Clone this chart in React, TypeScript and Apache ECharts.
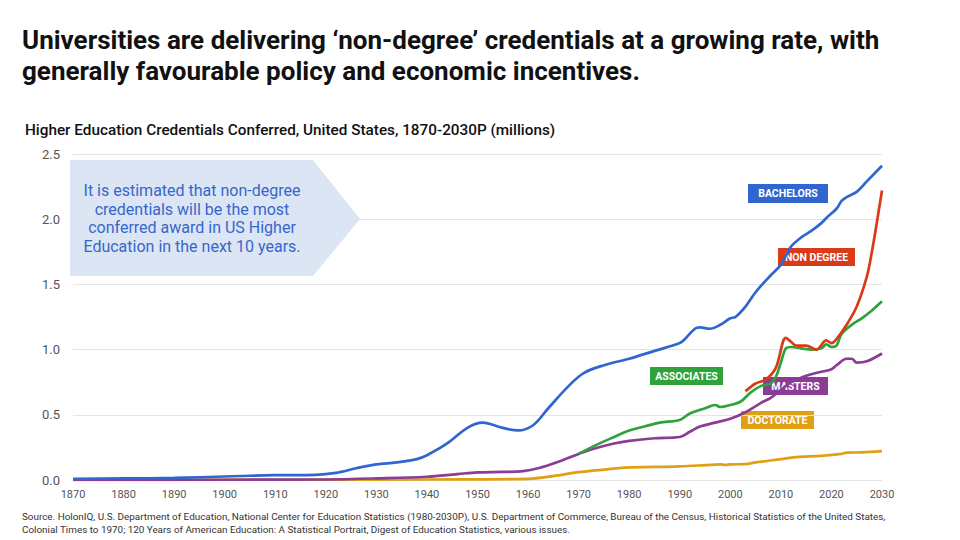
import React, { useEffect, useRef } from "react";
import * as echarts from "echarts";

const TITLE_LINES = [
  "Universities are delivering ‘non-degree’ credentials at a growing rate, with",
  "generally favourable policy and economic incentives.",
];
const SUBTITLE = "Higher Education Credentials Conferred, United States, 1870-2030P (millions)";
const SOURCE_LINES = [
  "Source. HolonIQ, U.S. Department of Education, National Center for Education Statistics (1980-2030P), U.S. Department of Commerce, Bureau of the Census, Historical Statistics of the United States,",
  "Colonial Times to 1970; 120 Years of American Education: A Statistical Portrait, Digest of Education Statistics, various issues.",
];
const CALLOUT = "It is estimated that non-degree\ncredentials will be the most\nconferred award in US Higher\nEducation in the next 10 years.";

const bachelorsYears = [1870, 1880, 1890, 1900, 1910, 1918, 1922, 1926, 1930, 1934, 1938, 1940, 1944, 1948, 1951, 1955, 1958, 1961, 1964, 1968, 1971, 1975, 1980, 1985, 1990, 1991, 1993, 1994, 1996, 1998, 2000, 2001, 2003, 2005, 2008, 2010, 2011, 2012, 2014, 2016, 2018, 2019, 2021, 2022, 2023, 2025, 2027, 2030];
const bachelorsValues = [0.009, 0.012, 0.016, 0.027, 0.037, 0.04, 0.055, 0.09, 0.12, 0.135, 0.16, 0.19, 0.28, 0.4, 0.44, 0.4, 0.38, 0.42, 0.55, 0.72, 0.82, 0.88, 0.93, 0.99, 1.05, 1.08, 1.16, 1.17, 1.16, 1.19, 1.24, 1.25, 1.33, 1.44, 1.57, 1.65, 1.72, 1.79, 1.86, 1.91, 1.97, 2.01, 2.08, 2.14, 2.17, 2.21, 2.29, 2.41];

const nonDegreeYears = [2003, 2005, 2007, 2009, 2011, 2012, 2013, 2015, 2017, 2019, 2020, 2021, 2023, 2025, 2027, 2028, 2029, 2030];
const nonDegreeValues = [0.68, 0.74, 0.77, 0.86, 1.09, 1.06, 1.03, 1.03, 1.0, 1.07, 1.05, 1.08, 1.19, 1.33, 1.56, 1.75, 1.98, 2.22];

const associatesYears = [1970, 1973, 1977, 1980, 1983, 1986, 1990, 1992, 1995, 1997, 1998, 2000, 2002, 2004, 2006, 2008, 2009, 2010, 2011, 2012, 2014, 2016, 2018, 2019, 2020, 2021, 2022, 2024, 2026, 2028, 2030];
const associatesValues = [0.2, 0.26, 0.33, 0.38, 0.41, 0.44, 0.46, 0.51, 0.55, 0.575, 0.56, 0.575, 0.6, 0.67, 0.72, 0.74, 0.79, 0.9, 1.01, 1.02, 1.01, 1.0, 1.01, 1.04, 1.02, 1.03, 1.12, 1.19, 1.24, 1.3, 1.37];

const mastersYears = [1870, 1900, 1920, 1930, 1940, 1946, 1950, 1955, 1959, 1962, 1966, 1970, 1973, 1977, 1980, 1985, 1990, 1992, 1994, 1997, 2000, 2003, 2006, 2008, 2010, 2012, 2015, 2018, 2020, 2021, 2023, 2024, 2025, 2027, 2030];
const mastersValues = [0.0, 0.002, 0.004, 0.012, 0.025, 0.045, 0.058, 0.062, 0.068, 0.09, 0.14, 0.2, 0.24, 0.28, 0.3, 0.32, 0.33, 0.37, 0.41, 0.44, 0.47, 0.52, 0.59, 0.63, 0.69, 0.75, 0.8, 0.83, 0.85, 0.88, 0.93, 0.93, 0.9, 0.91, 0.97];

const doctorateYears = [1870, 1900, 1920, 1940, 1960, 1965, 1970, 1975, 1980, 1985, 1990, 1995, 1998, 1999, 2000, 2003, 2005, 2010, 2013, 2018, 2022, 2023, 2026, 2030];
const doctorateValues = [0.0, 0.001, 0.002, 0.004, 0.009, 0.03, 0.06, 0.08, 0.097, 0.1, 0.105, 0.114, 0.12, 0.115, 0.12, 0.122, 0.135, 0.16, 0.175, 0.185, 0.2, 0.21, 0.212, 0.222];

const yTicks = [0, 0.5, 1.0, 1.5, 2.0, 2.5];
const xTicks = [1870, 1880, 1890, 1900, 1910, 1920, 1930, 1940, 1950, 1960, 1970, 1980, 1990, 2000, 2010, 2020, 2030];

const COLORS = {
  bachelors: "#2F66CF",
  nonDegree: "#D93A18",
  associates: "#2FA23C",
  masters: "#8B3C95",
  doctorate: "#DFA014",
};

const FONT = "Roboto, 'Noto Sans', sans-serif";

function pairs(xs: number[], ys: number[]) {
  return xs.map((x, i) => [x, ys[i]]);
}

function labelBox(text: string, x: number, y: number, w: number, h: number, color: string) {
  return {
    type: "group",
    x,
    y,
    children: [
      { type: "rect", shape: { x: 0, y: 0, width: w, height: h }, style: { fill: color } },
      {
        type: "text",
        x: w / 2,
        y: h / 2,
        style: {
          text,
          fill: "#ffffff",
          fontFamily: FONT,
          fontWeight: "bold",
          fontSize: 10.5,
          align: "center",
          verticalAlign: "middle",
        },
      },
    ],
  };
}

export default function App() {
  const ref = useRef<HTMLDivElement>(null);
  useEffect(() => {
    if (!ref.current) return;
    const chart = echarts.init(ref.current, undefined, { renderer: "svg" });
    const mkSeries = (name: string, xs: number[], ys: number[], color: string, z: number) => ({
      name,
      type: "line",
      data: pairs(xs, ys),
      smooth: 0.35,
      showSymbol: false,
      symbol: "none",
      z,
      lineStyle: { color, width: 2.7 },
      itemStyle: { color },
    });
    chart.setOption({
      animation: false,
      backgroundColor: "#ffffff",
      grid: { left: 73, right: 78, top: 154, bottom: 60, containLabel: false },
      xAxis: {
        type: "value",
        min: xTicks[0],
        max: xTicks[xTicks.length - 1],
        interval: 10,
        axisLine: { show: false },
        axisTick: { show: false },
        splitLine: { show: false },
        axisLabel: {
          color: "#555555",
          fontFamily: FONT,
          fontSize: 11,
          margin: 9,
          formatter: (v: number) => String(v),
        },
      },
      yAxis: {
        type: "value",
        min: yTicks[0],
        max: yTicks[yTicks.length - 1],
        interval: 0.5,
        axisLine: { show: false },
        axisTick: { show: false },
        splitLine: { show: true, lineStyle: { color: "#E4E4E4", width: 1 } },
        axisLabel: {
          color: "#555555",
          fontFamily: FONT,
          fontSize: 13,
          margin: 13,
          formatter: (v: number) => v.toFixed(1),
        },
      },
      series: [
        mkSeries("Doctorate", doctorateYears, doctorateValues, COLORS.doctorate, 1),
        mkSeries("Masters", mastersYears, mastersValues, COLORS.masters, 2),
        mkSeries("Associates", associatesYears, associatesValues, COLORS.associates, 3),
        mkSeries("Non Degree", nonDegreeYears, nonDegreeValues, COLORS.nonDegree, 4),
        mkSeries("Bachelors", bachelorsYears, bachelorsValues, COLORS.bachelors, 5),
      ],
      graphic: [
        {
          type: "text",
          x: 22,
          y: 24,
          style: {
            text: TITLE_LINES.join("\n"),
            fill: "#111111",
            fontFamily: FONT,
            fontWeight: "bold",
            fontSize: 26,
            lineHeight: 31,
          },
        },
        {
          type: "text",
          x: 25,
          y: 122,
          style: {
            text: SUBTITLE,
            fill: "#111111",
            fontFamily: FONT,
            fontWeight: 500,
            fontSize: 15.3,
          },
        },
        {
          type: "polygon",
          shape: { points: [[70, 160], [313, 160], [360, 219], [313, 276], [70, 276]] },
          style: { fill: "#DCE5F3" },
          z: 10,
        },
        {
          type: "text",
          x: 192,
          y: 218.5,
          z: 11,
          style: {
            text: CALLOUT,
            fill: "#3567CC",
            fontFamily: FONT,
            fontSize: 16,
            lineHeight: 18.5,
            align: "center",
            verticalAlign: "middle",
          },
        },
        { ...labelBox("BACHELORS", 748, 184, 80, 19, COLORS.bachelors), z: 20 },
        { ...labelBox("NON DEGREE", 778, 248, 77, 18, COLORS.nonDegree), z: 20 },
        { ...labelBox("ASSOCIATES", 650, 367, 73, 18, COLORS.associates), z: 20 },
        { ...labelBox("MASTERS", 763, 377, 65, 18, COLORS.masters), z: 20 },
        { ...labelBox("DOCTORATE", 741, 411, 73, 18, COLORS.doctorate), z: 20 },
        {
          type: "text",
          x: 22,
          y: 510,
          style: {
            text: SOURCE_LINES.join("\n"),
            fill: "#333333",
            fontFamily: FONT,
            fontSize: 9.9,
            lineHeight: 13,
          },
        },
      ],
    });
    return () => chart.dispose();
  }, []);
  return (
    <div
      ref={ref}
      style={{ position: "fixed", left: 0, top: 0, width: 960, height: 540, background: "#fff" }}
    />
  );
}
